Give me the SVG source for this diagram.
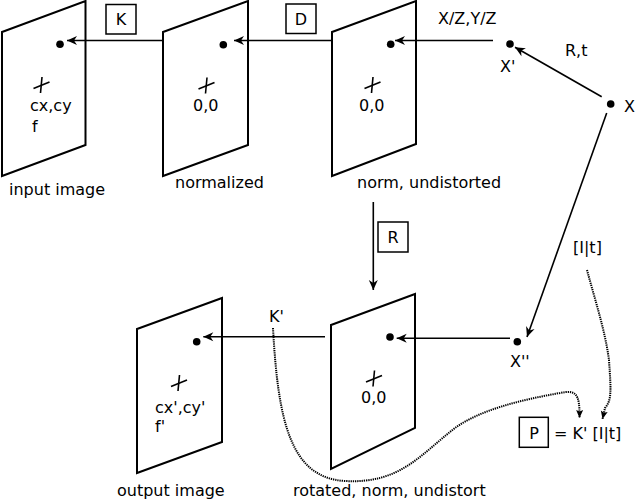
<svg xmlns="http://www.w3.org/2000/svg" width="635" height="502" viewBox="0 0 635 502">
<defs>
<style>
text{font-family:"DejaVu Sans","Liberation Sans",sans-serif;font-size:16px;fill:#000}
.pl{fill:#fff;stroke:#000;stroke-width:2}
.cr{stroke:#000;stroke-width:1.6;fill:none}
.ar{stroke:#000;stroke-width:1.6;fill:none;marker-end:url(#ah)}
.dt{stroke:#000;stroke-width:2;fill:none;stroke-dasharray:1.3,0.9;marker-end:url(#dh)}
.bx{fill:#fff;stroke:#000;stroke-width:1.5}
</style>
<marker id="ah" markerUnits="userSpaceOnUse" markerWidth="14" markerHeight="12" viewBox="-1 -6 14 12" refX="10" refY="0" orient="auto">
<path d="M0,-4.5 L10,0 L0,4.5 L3,0 z" fill="#000"/>
</marker>
<marker id="dh" markerUnits="userSpaceOnUse" markerWidth="12" markerHeight="12" viewBox="-1 -6 12 12" refX="8" refY="0" orient="auto">
<path d="M0,-3.5 L8,0 L0,3.5 L1.5,0 z" fill="#000"/>
</marker>
</defs>

<g id="input-image">
<polygon class="pl" points="2,32 85.5,1 85.5,145 2,176"/>
<circle cx="60" cy="44.3" r="3.8"/>
<line class="cr" x1="42" y1="77" x2="40.5" y2="93"/>
<line class="cr" x1="33.5" y1="88.5" x2="49.5" y2="82"/>
<text x="30" y="111">cx,cy</text>
<text x="32" y="132">f</text>
<text x="9" y="195">input image</text>
</g>

<g id="normalized">
<polygon class="pl" points="163,32 248,1 248,145 163,176"/>
<circle cx="223.3" cy="44.8" r="3.8"/>
<line class="cr" x1="207" y1="77.5" x2="205.5" y2="93.5"/>
<line class="cr" x1="198.5" y1="89" x2="214.5" y2="82.5"/>
<text x="193" y="111">0,0</text>
<text x="175" y="188">normalized</text>
</g>

<g id="norm-undistorted">
<polygon class="pl" points="332,32 416,1 416,144 332,176"/>
<circle cx="390.7" cy="44.3" r="3.8"/>
<line class="cr" x1="373" y1="77" x2="371.5" y2="93"/>
<line class="cr" x1="364.5" y1="88.5" x2="380.5" y2="82"/>
<text x="359" y="111">0,0</text>
<text x="357" y="188">norm, undistorted</text>
</g>

<g id="rotated">
<polygon class="pl" points="331,325 415,294 415,428 331,469"/>
<circle cx="390" cy="337" r="3.8"/>
<line class="cr" x1="374.5" y1="370.5" x2="373" y2="386.5"/>
<line class="cr" x1="366" y1="382" x2="382" y2="375.5"/>
<text x="361" y="403">0,0</text>
<text x="293" y="496">rotated, norm, undistort</text>
</g>

<g id="output-image">
<polygon class="pl" points="137,329 222,298 222,442 137,473"/>
<circle cx="196.7" cy="341.7" r="3.8"/>
<line class="cr" x1="179.5" y1="375" x2="178" y2="391"/>
<line class="cr" x1="171" y1="386.5" x2="187" y2="380"/>
<text x="155" y="413">cx',cy'</text>
<text x="155" y="432">f'</text>
<text x="117" y="496">output image</text>
</g>

<g id="point-Xp">
<circle cx="510" cy="44" r="3.8"/>
<text x="500" y="72">X'</text>
</g>
<g id="point-X">
<circle cx="610.7" cy="104" r="3.8"/>
<text x="624" y="112">X</text>
</g>
<g id="point-Xpp">
<circle cx="517.3" cy="341.7" r="3.8"/>
<text x="510" y="367">X''</text>
</g>

<g id="box-K">
<rect class="bx" x="106" y="4.5" width="30" height="29.5"/>
<text x="121" y="25" text-anchor="middle">K</text>
</g>
<g id="box-D">
<rect class="bx" x="286" y="4" width="30" height="29.5"/>
<text x="301" y="25" text-anchor="middle">D</text>
</g>
<g id="box-R">
<rect class="bx" x="378" y="222" width="30" height="30"/>
<text x="393" y="243" text-anchor="middle">R</text>
</g>
<g id="box-P">
<rect class="bx" x="519.3" y="417.3" width="29" height="30"/>
<text x="534" y="439" text-anchor="middle">P</text>
<text x="554" y="439">= K' [I|t]</text>
</g>

<g id="labels">
<text x="438" y="24">X/Z,Y/Z</text>
<text x="565" y="56">R,t</text>
<text x="573" y="253">[I|t]</text>
<text x="269" y="322">K'</text>
</g>

<g id="connectors">
<line class="ar" x1="163" y1="40.5" x2="67" y2="40.5"/>
<line class="ar" x1="332" y1="40.5" x2="234" y2="40.5"/>
<line class="ar" x1="493" y1="40.5" x2="395" y2="40.5"/>
<line class="ar" x1="601.7" y1="96.7" x2="515" y2="47.3"/>
<line class="ar" x1="606.7" y1="113" x2="527" y2="337"/>
<line class="ar" x1="373.3" y1="202" x2="373.3" y2="290"/>
<line class="ar" x1="510" y1="338.3" x2="396.7" y2="338.3"/>
<line class="ar" x1="325" y1="336.7" x2="203.3" y2="336.7"/>
<path class="dt" d="M273,328 C278,420 290,478 345,481 C400,484 420,455 455,428 C480,410 520,400 560,393 C575,390 580,392 579.5,418"/>
<path class="dt" d="M587,270 C595,300 605,330 609,360 C611,390 612,400 605,408 L602.5,419"/>
</g>
</svg>
